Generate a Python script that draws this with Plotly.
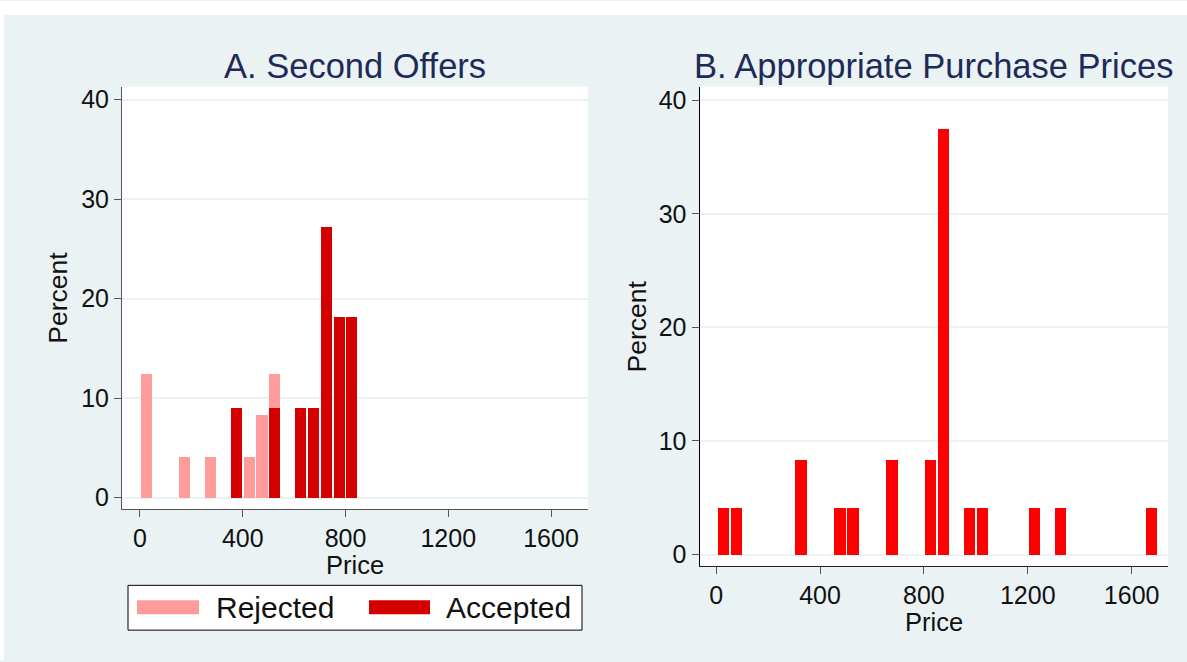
import plotly.graph_objects as go

# ---- data ----
bin_centers_a_rej = [25, 175, 275, 425, 475, 525]
pct_a_rej = [12.5, 4.17, 4.17, 4.17, 8.33, 12.5]
bin_centers_a_acc = [375, 525, 625, 675, 725, 775, 825]
pct_a_acc = [9.09, 9.09, 9.09, 9.09, 27.27, 18.18, 18.18]

bin_centers_b = [25, 75, 325, 475, 525, 675, 825, 875, 975, 1025, 1225, 1325, 1675]
pct_b = [4.17, 4.17, 8.33, 4.17, 4.17, 8.33, 8.33, 37.5, 4.17, 4.17, 4.17, 4.17, 4.17]

y_ticks = [0, 10, 20, 30, 40]
x_ticks = [0, 400, 800, 1200, 1600]
series_names = ["Rejected", "Accepted"]
panel_titles = ["A. Second Offers", "B. Appropriate Purchase Prices"]

# ---- styling ----
W, H = 1187, 662
BG = "#EAF2F3"
FONT = "Liberation Sans, Arial, sans-serif"
C_REJ = "#FF9B9B"
C_ACC = "#D40000"
C_B = "#FF0000"
NAVY = "#1E2B58"
BARW = 43

def px(x):
    return x / W

def py(y):
    return 1 - y / H

fig = go.Figure()
fig.add_trace(go.Bar(x=bin_centers_a_rej, y=pct_a_rej, width=BARW, marker=dict(color=C_REJ, line=dict(width=0)),
                     name=series_names[0], xaxis="x", yaxis="y", showlegend=False))
fig.add_trace(go.Bar(x=bin_centers_a_acc, y=pct_a_acc, width=BARW, marker=dict(color=C_ACC, line=dict(width=0)),
                     name=series_names[1], xaxis="x", yaxis="y", showlegend=False))
fig.add_trace(go.Bar(x=bin_centers_b, y=pct_b, width=BARW, marker=dict(color=C_B, line=dict(width=0)),
                     name="Appropriate", xaxis="x2", yaxis="y2", showlegend=False))

tickfont = dict(family=FONT, size=25, color="#111")

def xaxis(domain, rng, anchor, linecolor):
    return dict(domain=domain, range=rng, anchor=anchor, tickvals=x_ticks, ticks="outside", ticklen=7,
                tickcolor="#555", tickwidth=1, showline=True, linecolor=linecolor, linewidth=1,
                showgrid=False, zeroline=False, tickfont=tickfont)

def yaxis(domain, rng, anchor, linecolor):
    return dict(domain=domain, range=rng, anchor=anchor, tickvals=y_ticks, ticks="outside", ticklen=7,
                tickcolor="#555", tickwidth=1, showline=True, linecolor=linecolor, linewidth=1,
                showgrid=True, gridcolor=BG, gridwidth=1.5, zeroline=False, tickfont=tickfont)

fig.update_layout(
    width=W, height=H, autosize=False,
    margin=dict(l=0, r=0, t=0, b=0, pad=0),
    paper_bgcolor=BG, plot_bgcolor="white",
    barmode="overlay", bargap=0,
    font=dict(family=FONT, color="#111"),
    xaxis=xaxis([px(122), px(588)], [-70, 1744], "y", "#555"),
    yaxis=yaxis([py(510.5), py(86)], [-1.15, 41.3], "x", "#555"),
    xaxis2=xaxis([px(699.5), px(1168)], [-64, 1740], "y2", "#222"),
    yaxis2=yaxis([py(567.5), py(86)], [-1.0, 41.2], "x2", "#000"),
)

shapes = []
# white strip at top (document area)
shapes.append(dict(type="rect", xref="paper", yref="paper", x0=0, x1=1, y0=py(14), y1=1,
                   fillcolor="white", line=dict(width=0), layer="below"))
shapes.append(dict(type="rect", xref="paper", yref="paper", x0=0, x1=px(4), y0=0, y1=1,
                   fillcolor="white", line=dict(width=0), layer="below"))
# legend box
shapes.append(dict(type="rect", xref="paper", yref="paper", x0=px(128), x1=px(582), y0=py(632), y1=py(587),
                   fillcolor="white", line=dict(color="#000", width=1)))
shapes.append(dict(type="rect", xref="paper", yref="paper", x0=px(137), x1=px(199), y0=py(616), y1=py(602),
                   fillcolor=C_REJ, line=dict(width=0)))
shapes.append(dict(type="rect", xref="paper", yref="paper", x0=px(369), x1=px(430), y0=py(616), y1=py(602),
                   fillcolor=C_ACC, line=dict(width=0)))
fig.update_layout(shapes=shapes)

ann = []
def text(t, x, y, size, color="#111", xanchor="center", angle=0):
    ann.append(dict(text=t, x=px(x), y=py(y), xref="paper", yref="paper", showarrow=False,
                    xanchor=xanchor, yanchor="middle", textangle=angle,
                    font=dict(family=FONT, size=size, color=color)))

text(panel_titles[0], 355, 65, 34.5, NAVY)
text(panel_titles[1], 933.5, 65, 34.5, NAVY)
text("Percent", 58, 298, 26.5, angle=-90)
text("Percent", 637, 327, 26.5, angle=-90)
text("Price", 355, 567, 25.5)
text("Price", 933.5, 624, 25.5)
text(series_names[0], 214, 609, 30, xanchor="left")
text(series_names[1], 444, 609, 30, xanchor="left")
fig.update_layout(annotations=ann)

fig.write_html("out.html", config={"displayModeBar": False},
               post_script="document.body.style.margin='0';document.body.style.padding='0';")
